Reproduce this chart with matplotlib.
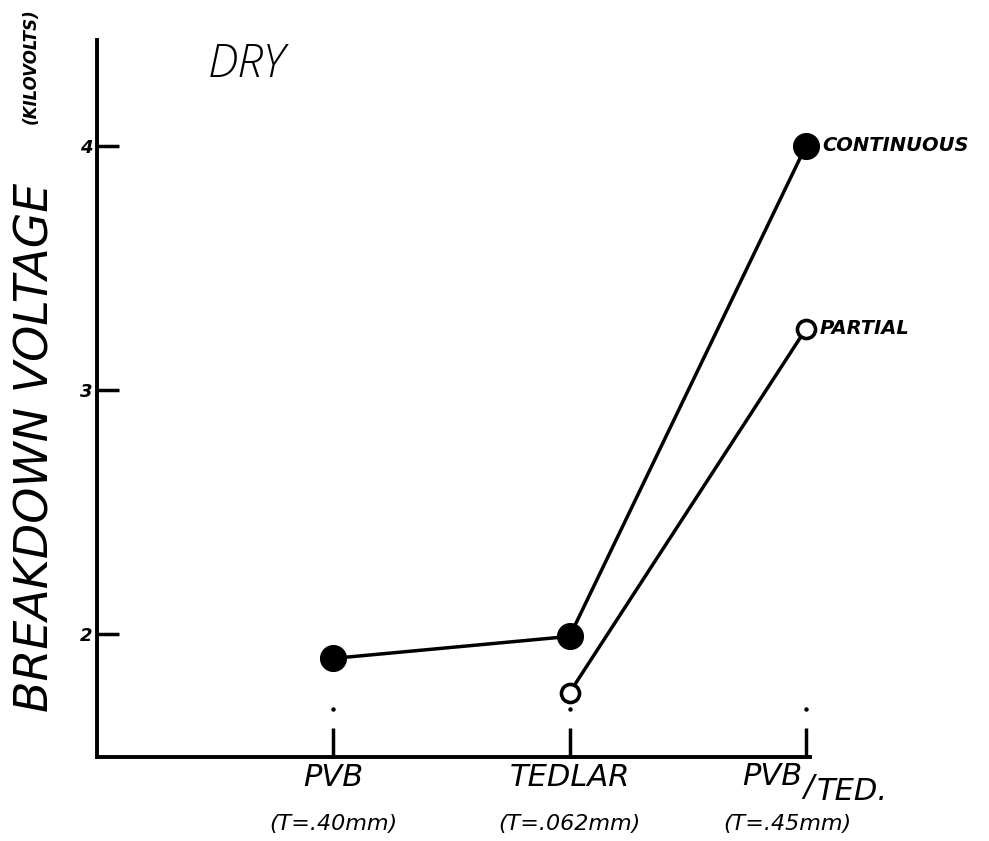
import numpy as np
import matplotlib
matplotlib.use('Agg')
import matplotlib.pyplot as plt
import matplotlib.transforms as mtransforms

# data
categories = ['PVB', 'TEDLAR', 'PVB/TED.']
thickness = ['(T=.40mm)', '(T=.062mm)', '(T=.45mm)']
continuous = [1.90, 1.99, 4.00]
partial = [np.nan, 1.76, 3.25]
yticks = [2, 3, 4]

plt.rcParams['font.family'] = ['DejaVu Sans']

fig = plt.figure(figsize=(9.89, 8.41), dpi=100)
ax = fig.add_axes([0.098, 0.0999, 0.721, 0.8526])

x = np.arange(1, len(categories) + 1)
ink = 'black'

# small pencil dots above the category ticks
trans = mtransforms.blended_transform_factory(ax.transData, ax.transAxes)
ax.plot(x, [0.067] * len(x), ls='none', marker='o', ms=2.2, color=ink,
        transform=trans, zorder=1)

ax.plot(x, continuous, color=ink, lw=2.5, marker='o', ms=18.5,
        markerfacecolor=ink, markeredgecolor=ink, zorder=3, clip_on=False)
ax.plot(x, partial, color=ink, lw=2.5, marker='o', ms=13, mew=2.6,
        markerfacecolor='white', markeredgecolor=ink, zorder=3, clip_on=False)

ax.annotate('CONTINUOUS', (x[-1], continuous[-1]), xytext=(12, 0),
            textcoords='offset points', va='center', ha='left',
            fontsize=14, fontweight='bold', fontstyle='italic')
ax.annotate('PARTIAL', (x[-1], partial[-1]), xytext=(10, 0),
            textcoords='offset points', va='center', ha='left',
            fontsize=14, fontweight='bold', fontstyle='italic')

ax.set_xlim(0, 3.017)
ax.set_ylim(1.496, 4.434)

for side in ['top', 'right']:
    ax.spines[side].set_visible(False)
for side in ['left', 'bottom']:
    ax.spines[side].set_linewidth(2.8)
    ax.spines[side].set_color(ink)

ax.set_yticks(yticks)
ax.set_yticklabels([str(v) for v in yticks], fontsize=13,
                   fontweight='bold', fontstyle='italic')
ax.tick_params(axis='y', direction='in', length=16, width=2.5, pad=3)
ax.set_xticks(x)
ax.set_xticklabels([])
ax.tick_params(axis='x', direction='in', length=21, width=2.5)

# category labels under the axis
cat_kw = dict(transform=trans, va='center', fontsize=22, fontstyle='italic')
for i, (cat, th) in enumerate(zip(categories, thickness)):
    if cat == 'PVB/TED.':
        top, bottom = cat.split('/')
        ax.text(x[i] - 0.015, -0.027, top, ha='right', **cat_kw)
        ax.text(x[i] + 0.01, -0.043, '/', ha='center', **cat_kw)
        ax.text(x[i] + 0.045, -0.048, bottom, ha='left', **cat_kw)
        ax.text(x[i] - 0.08, -0.094, th, transform=trans, ha='center',
                va='center', fontsize=16, fontstyle='italic')
    else:
        ax.text(x[i], -0.029, cat, ha='center', **cat_kw)
        ax.text(x[i], -0.094, th, transform=trans, ha='center',
                va='center', fontsize=16, fontstyle='italic')

fig.text(0.249, 0.923, 'DRY', ha='center', va='center', fontsize=33,
         fontweight='light', fontstyle='italic', family='Open Sans')
fig.text(0.036, 0.468, 'BREAKDOWN VOLTAGE', rotation=90, ha='center',
         va='center', fontsize=33, fontstyle='italic')
fig.text(0.031, 0.921, '(KILOVOLTS)', rotation=90, ha='center',
         va='center', fontsize=12, fontweight='bold', fontstyle='italic')

fig.savefig('out.png', dpi=100)
